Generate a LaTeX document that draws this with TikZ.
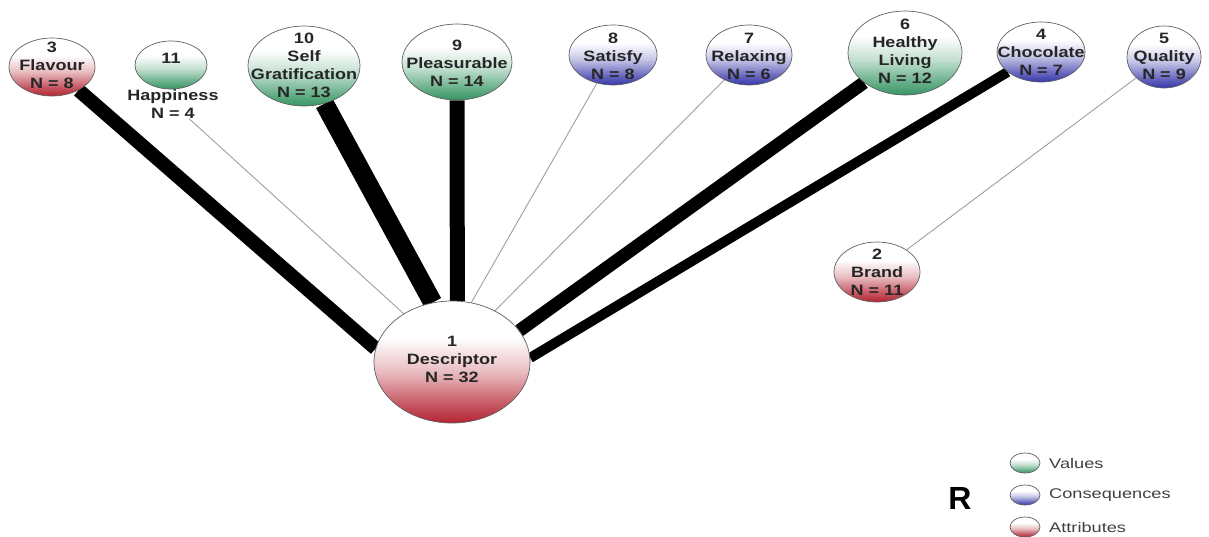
\documentclass[tikz,border=0pt]{standalone}
\usepackage{fontspec}
\setmainfont{Liberation Sans}
\newfontfamily\nfont[FakeStretch=1.2]{Liberation Sans}
\newfontfamily\lfont[FakeStretch=1.3]{Liberation Sans}
\usetikzlibrary{shapes.geometric,backgrounds}
\definecolor{valc}{RGB}{55,150,100}
\definecolor{conc}{RGB}{55,55,170}
\definecolor{attc}{RGB}{180,35,50}
\pgfdeclareverticalshading{valsh}{100bp}{color(0bp)=(valc); color(25bp)=(valc); color(33bp)=(valc!75!white); color(46bp)=(valc!30!white); color(60bp)=(white); color(100bp)=(white)}
\pgfdeclareverticalshading{consh}{100bp}{color(0bp)=(conc); color(25bp)=(conc); color(33bp)=(conc!75!white); color(46bp)=(conc!30!white); color(60bp)=(white); color(100bp)=(white)}
\pgfdeclareverticalshading{attsh}{100bp}{color(0bp)=(attc); color(25bp)=(attc); color(33bp)=(attc!75!white); color(46bp)=(attc!30!white); color(60bp)=(white); color(100bp)=(white)}
\tikzset{
  cn/.style={ellipse, draw=gray!75!black, line width=0.7pt, inner sep=0pt},
  val/.style={cn, shading=valsh},
  con/.style={cn, shading=consh},
  att/.style={cn, shading=attsh},
  txt/.style={font={\nfont\bfseries\fontsize{15}{18}\selectfont}, align=center, text=black!85, inner sep=0pt},
  legtxt/.style={font={\lfont\fontsize{14}{16}\selectfont}, text=black!75, anchor=west, inner sep=0pt},
  heavy/.style={line width=#1, black},
  light/.style={gray!75, line width=0.9pt}
}
\begin{document}
\begin{tikzpicture}[x=1pt,y=-1pt]
\useasboundingbox (0,0) rectangle (1209,536);
% concept nodes
\node[att, minimum width=86, minimum height=58] (flav) at (52,67) {};
\node[txt] (flavT) at (52,65) {3\\Flavour\\N = 8};
\node[val, minimum width=72, minimum height=48] (hap) at (171,65) {};
\node[txt] (hapT) at (171,58) {11};
\node[txt] (hapL) at (173,104) {Happiness\\N = 4};
\node[val, minimum width=112, minimum height=80] (self) at (304,66) {};
\node[txt] (selfT) at (304,65) {10\\Self\\Gratification\\N = 13};
\node[val, minimum width=110, minimum height=76] (pleas) at (457,62) {};
\node[txt] (pleasT) at (457,63) {9\\Pleasurable\\N = 14};
\node[con, minimum width=88, minimum height=60] (sat) at (613,55) {};
\node[txt] (satT) at (613,56) {8\\Satisfy\\N = 8};
\node[con, minimum width=86, minimum height=60] (rel) at (749,55) {};
\node[txt] (relT) at (749,56) {7\\Relaxing\\N = 6};
\node[val, minimum width=114, minimum height=84] (hl) at (905,53) {};
\node[txt] (hlT) at (905,51) {6\\Healthy\\Living\\N = 12};
\node[con, minimum width=88, minimum height=60] (choc) at (1041,52) {};
\node[txt] (chocT) at (1041,52) {4\\Chocolate\\N = 7};
\node[con, minimum width=74, minimum height=62] (qual) at (1164,57) {};
\node[txt] (qualT) at (1164,56) {5\\Quality\\N = 9};
\node[att, minimum width=86, minimum height=60] (brand) at (877,272) {};
\node[txt] (brandT) at (877,272) {2\\Brand\\N = 11};
\node[att, minimum width=156, minimum height=122] (desc) at (452,362) {};
\node[txt] (descT) at (452,359) {1\\Descriptor\\N = 32};
% connectors
\begin{scope}[on background layer]
\draw[heavy=14pt] (flav) -- (desc.170);
\draw[light] (hapL) -- (desc.135);
\draw[heavy=19pt] (self) -- (desc.108);
\draw[heavy=15pt] (pleas) -- (desc.85);
\draw[light] (sat) -- (desc.72);
\draw[light] (rel) -- (desc.50);
\draw[heavy=13pt] (hl) -- (desc.25);
\draw[heavy=10pt] (choc) -- (desc.3);
\draw[light] (qual) -- (brand);
\end{scope}
% legend
\node[font={\bfseries\fontsize{32}{34}\selectfont}, inner sep=0pt] (R) at (960,498) {R};
\node[val, minimum width=30, minimum height=20] (lv) at (1025,463) {};
\node[con, minimum width=30, minimum height=20] (lc) at (1025,495) {};
\node[att, minimum width=30, minimum height=20] (la) at (1025,527) {};
\node[legtxt] (lvT) at (1049,463) {Values};
\node[legtxt] (lcT) at (1049,495) {Consequences};
\node[legtxt] (laT) at (1049,527) {Attributes};
\end{tikzpicture}
\end{document}
